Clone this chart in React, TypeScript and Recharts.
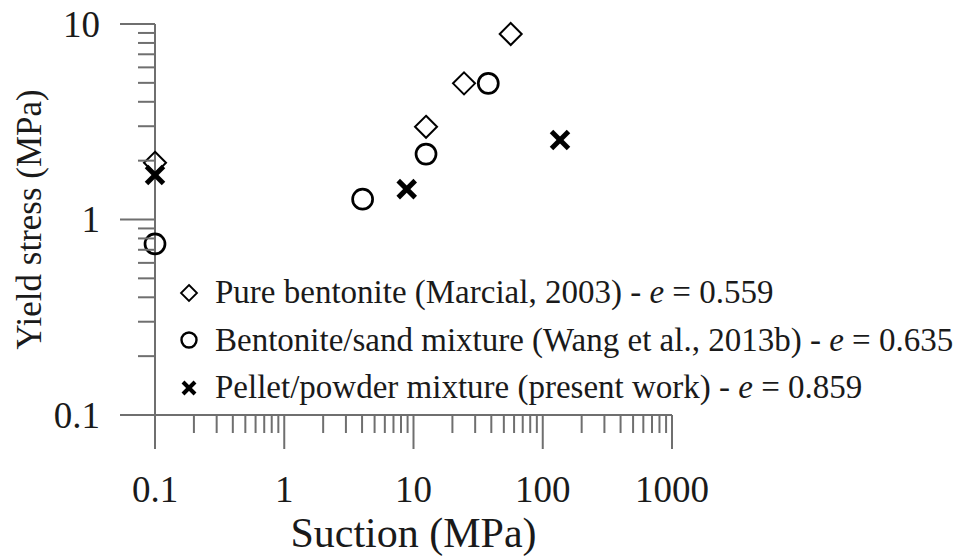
import React from 'react';
import { ScatterChart, Scatter, XAxis, YAxis, Legend } from 'recharts';

// (log-log)
const PURE_SUCTION = [0.1, 12.5, 24.6, 56.5];
const PURE_YIELD = [1.95, 2.98, 4.97, 8.89];
const SAND_SUCTION = [0.1, 4.04, 12.5, 37.9];
const SAND_YIELD = [0.75, 1.27, 2.16, 4.97];
const PELLET_SUCTION = [0.1, 8.86, 136];
const PELLET_YIELD = [1.69, 1.43, 2.55];

const SERIES_NAMES = [
  'Pure bentonite (Marcial, 2003)',
  'Bentonite/sand mixture (Wang et al., 2013b)',
  'Pellet/powder mixture (present work)',
];
const VOID_RATIOS = ['0.559', '0.635', '0.859'];

const X_MAJOR = [0.1, 1, 10, 100, 1000];
const X_LABELS = ['0.1', '1', '10', '100', '1000'];
const Y_MAJOR = [0.1, 1, 10];
const Y_LABELS = ['0.1', '1', '10'];
const MINOR_STEPS = [2, 3, 4, 5, 6, 7, 8, 9];

const minorsOf = (majors: number[]) =>
  majors.slice(0, -1).flatMap((d) => MINOR_STEPS.map((m) => +(d * m).toPrecision(3)));

const X_TICKS = [...X_MAJOR, ...minorsOf(X_MAJOR)];
const Y_TICKS = [...Y_MAJOR, ...minorsOf(Y_MAJOR)];

const toPoints = (xs: number[], ys: number[]) => xs.map((x, i) => ({ suction: x, yieldStress: ys[i] }));
const pureData = toPoints(PURE_SUCTION, PURE_YIELD);
const sandData = toPoints(SAND_SUCTION, SAND_YIELD);
const pelletData = toPoints(PELLET_SUCTION, PELLET_YIELD);

const FONT = '"Liberation Serif"';
const AXIS = '#6f6f6f';
const INK = '#1a1a1a';

const Diamond = ({ cx, cy, r = 11, sw = 2 }: any) => (
  <path d={`M${cx},${cy - r}L${cx + r},${cy}L${cx},${cy + r}L${cx - r},${cy}Z`} fill="none" stroke="#000" strokeWidth={sw} />
);
const Ring = ({ cx, cy, r = 10, sw = 2.7 }: any) => (
  <circle cx={cx} cy={cy} r={r} fill="none" stroke="#000" strokeWidth={sw} />
);
const Cross = ({ cx, cy, r = 8.5, sw = 5 }: any) => (
  <g stroke="#000" strokeWidth={sw}>
    <line x1={cx - r} y1={cy - r} x2={cx + r} y2={cy + r} />
    <line x1={cx - r} y1={cy + r} x2={cx + r} y2={cy - r} />
  </g>
);

const XTick = (props: any) => {
  const { x, y, payload } = props;
  const idx = X_MAJOR.indexOf(payload.value);
  return (
    <g>
      <line x1={x} x2={x} y1={y} y2={y + (idx >= 0 ? 34 : 18)} stroke={AXIS} strokeWidth={2} />
      {idx >= 0 && (
        <text x={x} y={y + 74} textAnchor="middle" dominantBaseline="central" fontFamily="Liberation Serif" style={{ fontFamily: FONT }} fontSize={37} fill={INK}>
          {X_LABELS[idx]}
        </text>
      )}
    </g>
  );
};

const YTick = (props: any) => {
  const { x, y, payload } = props;
  const idx = Y_MAJOR.indexOf(payload.value);
  return (
    <g>
      <line x1={x} x2={x - (idx >= 0 ? 35 : 17)} y1={y} y2={y} stroke={AXIS} strokeWidth={2} />
      {idx >= 0 && (
        <text x={x - 55} y={y} textAnchor="end" dominantBaseline="central" fontFamily="Liberation Serif" style={{ fontFamily: FONT }} fontSize={37} fill={INK}>
          {Y_LABELS[idx]}
        </text>
      )}
    </g>
  );
};

const renderLegend = () => {
  const marks = [
    <Diamond cx={14} cy={14} r={8} sw={1.8} />,
    <Ring cx={14} cy={14} r={7.5} sw={2.4} />,
    <Cross cx={14} cy={14} r={6} sw={4} />,
  ];
  return (
    <div style={{ fontFamily: FONT, fontSize: 33, color: INK }}>
      {SERIES_NAMES.map((name, i) => (
        <div key={name} style={{ display: 'flex', alignItems: 'center', height: 47.5, whiteSpace: 'nowrap', fontFamily: FONT }}>
          <svg width={28} height={28} style={{ marginRight: 12, flexShrink: 0 }}>{marks[i]}</svg>
          <span style={{ fontFamily: FONT }}>
            {name} - <i>e</i> = {VOID_RATIOS[i]}
          </span>
        </div>
      ))}
    </div>
  );
};

export default function App() {
  return (
    <div style={{ position: 'absolute', left: 0, top: 0, width: 974, height: 558, background: '#fff', fontFamily: FONT }}>
      <ScatterChart width={974} height={558} margin={{ top: 24, right: 302, bottom: 0, left: 0 }} style={{ fontFamily: FONT }}>
        <XAxis
          type="number"
          dataKey="suction"
          scale="log"
          domain={[0.1, 1000]}
          ticks={X_TICKS}
          interval={0}
          tickSize={0}
          tickMargin={0}
          tickLine={false}
          tick={<XTick />}
          axisLine={{ stroke: AXIS, strokeWidth: 2 }}
          height={143}
          label={(p: any) => {
            const vb = p.viewBox;
            return (
              <text x={vb.x + vb.width / 2} y={vb.y + 118} textAnchor="middle" dominantBaseline="central" fontFamily="Liberation Serif" style={{ fontFamily: FONT }} fontSize={42} fill={INK}>
                Suction (MPa)
              </text>
            );
          }}
        />
        <YAxis
          type="number"
          dataKey="yieldStress"
          scale="log"
          domain={[0.1, 10]}
          ticks={Y_TICKS}
          interval={0}
          tickSize={0}
          tickMargin={0}
          tickLine={false}
          tick={<YTick />}
          axisLine={{ stroke: AXIS, strokeWidth: 2 }}
          width={155}
          label={(p: any) => {
            const vb = p.viewBox;
            const cx = 29;
            const cy = vb.y + vb.height / 2;
            return (
              <text x={cx} y={cy} transform={`rotate(-90 ${cx} ${cy})`} textAnchor="middle" dominantBaseline="central" fontFamily="Liberation Serif" style={{ fontFamily: FONT }} fontSize={35} fill={INK}>
                Yield stress (MPa)
              </text>
            );
          }}
        />
        <Legend
          layout="vertical"
          align="center"
          verticalAlign="middle"
          content={renderLegend}
          wrapperStyle={{ left: 175, top: 269, width: 799 }}
        />
        <Scatter name={SERIES_NAMES[0]} data={pureData} isAnimationActive={false} shape={(p: any) => <Diamond cx={p.cx} cy={p.cy} />} />
        <Scatter name={SERIES_NAMES[1]} data={sandData} isAnimationActive={false} shape={(p: any) => <Ring cx={p.cx} cy={p.cy} />} />
        <Scatter name={SERIES_NAMES[2]} data={pelletData} isAnimationActive={false} shape={(p: any) => <Cross cx={p.cx} cy={p.cy} />} />
      </ScatterChart>
    </div>
  );
}
